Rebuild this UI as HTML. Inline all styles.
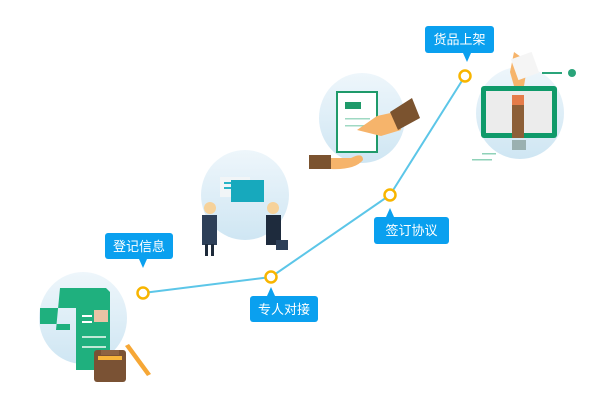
<!DOCTYPE html>
<html><head><meta charset="utf-8"><style>
html,body{margin:0;padding:0;background:#fff;width:600px;height:400px;overflow:hidden}
text{font-family:"Liberation Sans","Noto Sans CJK SC",sans-serif;font-size:13px;fill:#fff}
</style></head><body>
<svg width="600" height="400" viewBox="0 0 600 400">
<defs><linearGradient id="bg" x1="0" y1="0" x2="0" y2="1"><stop offset="0" stop-color="#eef6fb"/><stop offset="1" stop-color="#cfe6f3"/></linearGradient></defs>
<!-- circles -->
<ellipse cx="83" cy="318" rx="44" ry="46" fill="url(#bg)"/>
<ellipse cx="245" cy="195" rx="44" ry="45" fill="url(#bg)"/>
<ellipse cx="362" cy="118" rx="43" ry="45" fill="url(#bg)"/>
<ellipse cx="520" cy="113" rx="44" ry="46" fill="url(#bg)"/>
<!-- item 1: scroll -->
<path d="M60 288 h46 l4 4 v78 h-34 v-62 h-16 z" fill="#1fb07e"/>
<path d="M60 288 q8 4 10 20 h-30 v16 h30 v6 h-14" fill="#1fb07e"/>
<rect x="94" y="310" width="14" height="12" fill="#e9c3a5"/>
<rect x="82" y="315" width="10" height="2" fill="#fff"/><rect x="82" y="321" width="10" height="2" fill="#fff"/><rect x="82" y="336" width="24" height="2" fill="#bfe9d7"/><rect x="82" y="346" width="24" height="2" fill="#bfe9d7"/>
<rect x="94" y="350" width="32" height="32" rx="3" fill="#7a5234"/><rect x="98" y="356" width="24" height="4" fill="#f6b53a"/><rect x="101" y="350" width="18" height="5" fill="#8d6342"/>
<path d="M129 344 l22 30 l-4 2 l-22-30z" fill="#f6a736"/>
<!-- item 2: people -->
<rect x="220" y="177" width="30" height="20" fill="#f1f5f7"/><rect x="224" y="182" width="20" height="2" fill="#29b3c6"/><rect x="224" y="187" width="20" height="2" fill="#29b3c6"/>
<rect x="231" y="180" width="33" height="22" fill="#17a9bd"/>
<circle cx="210" cy="208" r="6" fill="#f6d29a"/><rect x="202" y="215" width="15" height="30" fill="#2d3f58"/><rect x="205" y="244" width="3" height="12" fill="#1d2a3a"/><rect x="211" y="244" width="3" height="12" fill="#1d2a3a"/>
<circle cx="273" cy="208" r="6" fill="#f6d29a"/><rect x="266" y="215" width="15" height="30" fill="#1e2b3d"/><rect x="276" y="240" width="12" height="10" fill="#2d3f58"/>
<!-- item 3: contract -->
<rect x="337" y="92" width="40" height="60" fill="#fff" stroke="#1f9a6a" stroke-width="2"/>
<rect x="345" y="102" width="16" height="7" fill="#1f9a6a"/>
<rect x="345" y="118" width="25" height="1.5" fill="#9fd9c3"/><rect x="345" y="125" width="25" height="1.5" fill="#9fd9c3"/>
<path d="M357 130 l20-14 l18-4 l6 18 l-20 6 z" fill="#f6b46b"/>
<path d="M390 112 l22-14 l8 20 l-22 12z" fill="#7b532f"/>
<rect x="309" y="155" width="22" height="14" fill="#7b532f"/><path d="M331 158 h20 q12-6 12 2 q-8 10-32 9z" fill="#f6b46b"/>
<!-- item 4: monitor -->
<rect x="481" y="86" width="76" height="52" rx="3" fill="#0f9a6a"/><rect x="486" y="91" width="66" height="42" fill="#ececec"/>
<rect x="512" y="140" width="14" height="10" fill="#9ab0b0"/>
<rect x="512" y="95" width="12" height="43" fill="#8d5f38"/><rect x="512" y="95" width="12" height="10" fill="#e57c4a"/>
<path d="M510 72 l4-20 l14 10 l-4 24 l-10 0z" fill="#f6b46b"/>
<rect x="514" y="55" width="22" height="22" fill="#f5f5f5" transform="rotate(-20 525 66)"/>
<rect x="542" y="72" width="20" height="2" fill="#2aa47a"/><circle cx="572" cy="73" r="4" fill="#2aa47a"/>
<rect x="482" y="153" width="14" height="1.5" fill="#8fd2b8"/><rect x="472" y="159" width="20" height="1.5" fill="#8fd2b8"/>
<!-- line -->
<polyline points="143,293 271,277 390,195 465,76" fill="none" stroke="#5cc6e8" stroke-width="2"/>
<g fill="#fff" stroke="#f8b500" stroke-width="2.5">
<circle cx="143" cy="293" r="5.5"/><circle cx="271" cy="277" r="5.5"/><circle cx="390" cy="195" r="5.5"/><circle cx="465" cy="76" r="5.5"/></g>
<!-- labels -->
<g fill="#0aa0ef">
<rect x="105" y="233" width="68" height="26" rx="3"/><path d="M139 259 h8 l-4 9z"/>
<rect x="250" y="296" width="68" height="26" rx="3"/><path d="M267 296 h8 l-4 -9z"/>
<rect x="374" y="217" width="75" height="27" rx="3"/><path d="M386 217 h8 l-4 -9z"/>
<rect x="425" y="26" width="69" height="27" rx="3"/><path d="M463 53 h8 l-4 9z"/>
</g>
<text x="139" y="251" text-anchor="middle">登记信息</text>
<text x="284" y="314" text-anchor="middle">专人对接</text>
<text x="411.5" y="235" text-anchor="middle">签订协议</text>
<text x="459.5" y="44" text-anchor="middle">货品上架</text>
</svg>
</body></html>
